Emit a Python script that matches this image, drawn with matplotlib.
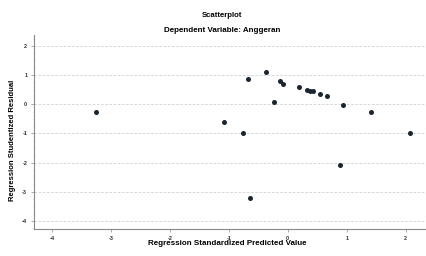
import matplotlib
matplotlib.use("Agg")
import matplotlib.pyplot as plt
from matplotlib.ticker import MultipleLocator

plt.rcParams['font.family'] = ['Liberation Sans', 'DejaVu Sans']

# Data
predicted = [-3.25, -1.08, -0.76, -0.68, -0.64, -0.37, -0.24, -0.14, -0.08,
             0.19, 0.32, 0.37, 0.42, 0.54, 0.66, 0.93, 1.41, 2.07, 0.88]
residual = [-0.28, -0.62, -1.00, 0.86, -3.22, 1.12, 0.07, 0.79, 0.69,
            0.59, 0.48, 0.45, 0.44, 0.34, 0.28, -0.03, -0.28, -1.00, -2.07]
x_ticks = [-4, -3, -2, -1, 0, 1, 2]
y_ticks = [2, 1, 0, -1, -2, -3, -4]

title = "Scatterplot"
subtitle = "Dependent Variable: Anggeran"
xlabel = "Regression Standardized Predicted Value"
ylabel = "Regression Studentized Residual"

fig = plt.figure(figsize=(4.27, 2.56), dpi=100)
ax = fig.add_axes([0.08, 0.105, 0.92, 0.758])

ax.set_xlim(-4.3, 2.36)
ax.set_ylim(-4.28, 2.37)

for yv in y_ticks:
    ax.axhline(yv, color='#d0d0d0', lw=0.6, ls=(0, (3, 2)), zorder=0)

ax.scatter(predicted, residual, s=13, color='#1b2530', zorder=3, linewidths=0)

ax.set_xticks(x_ticks)
ax.set_yticks(y_ticks)
ax.set_xticklabels([str(v) for v in x_ticks], fontsize=4, color='#333333', fontweight='bold')
ax.set_yticklabels([str(v) for v in y_ticks], fontsize=4, color='#333333', fontweight='bold')
ax.yaxis.set_minor_locator(MultipleLocator(0.25))
ax.tick_params(axis='both', which='major', length=2, width=0.5, color='#888888', pad=3)
ax.tick_params(axis='y', which='minor', length=1, width=0.4, color='#aaaaaa')

for s in ['top', 'right']:
    ax.spines[s].set_visible(False)
for s in ['left', 'bottom']:
    ax.spines[s].set_color('#888888')
    ax.spines[s].set_linewidth(0.8)

fig.text(0.52, 0.94, title, ha='center', va='center', fontsize=5.6, fontweight='bold')
fig.text(0.52, 0.88, subtitle, ha='center', va='center', fontsize=5.8, fontweight='bold')
fig.text(0.532, 0.05, xlabel, ha='center', va='center', fontsize=5.8, fontweight='bold')
fig.text(0.03, 0.45, ylabel, ha='center', va='center', rotation=90, fontsize=5.5, fontweight='bold')

fig.savefig("out.png", dpi=100, facecolor='white')
